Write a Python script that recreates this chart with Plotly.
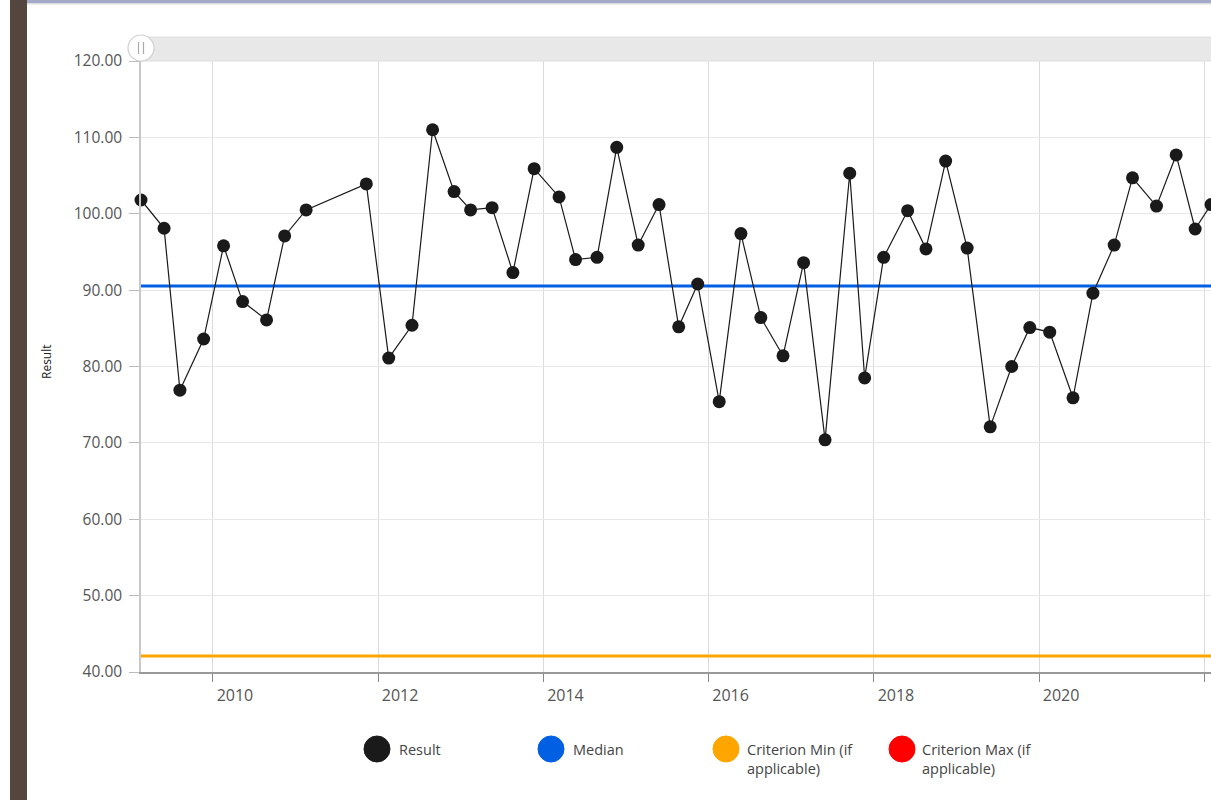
import plotly.graph_objects as go

# ---- data ----
dates = ["2009-02-17", "2009-05-30", "2009-08-08", "2009-11-21", "2010-02-17", "2010-05-12",
         "2010-08-26", "2010-11-14", "2011-02-17", "2011-11-10", "2012-02-17", "2012-05-30",
         "2012-08-29", "2012-12-02", "2013-02-13", "2013-05-19", "2013-08-19", "2013-11-21",
         "2014-03-11", "2014-05-23", "2014-08-26", "2014-11-21", "2015-02-24", "2015-05-27",
         "2015-08-22", "2015-11-14", "2016-02-17", "2016-05-23", "2016-08-19", "2016-11-25",
         "2017-02-24", "2017-05-30", "2017-09-16", "2017-11-21", "2018-02-13", "2018-05-30",
         "2018-08-19", "2018-11-14", "2019-02-17", "2019-05-30", "2019-09-02", "2019-11-21",
         "2020-02-17", "2020-05-30", "2020-08-26", "2020-11-28", "2021-02-17", "2021-06-03",
         "2021-08-29", "2021-11-21", "2022-01-30"]
results = [101.8, 98.1, 76.9, 83.6, 95.8, 88.5, 86.1, 97.1, 100.5, 103.9, 81.1, 85.4,
           111.0, 102.9, 100.5, 100.8, 92.3, 105.9, 102.2, 94.0, 94.3, 108.7, 95.9, 101.2,
           85.2, 90.8, 75.4, 97.4, 86.4, 81.4, 93.6, 70.4, 105.3, 78.5, 94.3, 100.4,
           95.4, 106.9, 95.5, 72.1, 80.0, 85.1, 84.5, 75.9, 89.6, 95.9, 104.7, 101.0,
           107.7, 98.0, 101.2]
median_value = 90.55
criterion_min = 42.1
x_range = ["2009-02-17", "2022-01-30"]
y_ticks = [40, 50, 60, 70, 80, 90, 100, 110, 120]
legend_names = ["Result", "Median", "Criterion Min (if<br>applicable)", "Criterion Max (if<br>applicable)"]
legend_colors = ["#1a1a1a", "#005fe3", "#ffa500", "#ff0000"]

W, H = 1211, 800
L, R, T, B = 141, 0, 61, 128
PW, PH = W - L - R, H - T - B


def px(x):
    return (x - L) / PW


def py(y):
    return (H - B - y) / PH


FONT = "Open Sans"
fig = go.Figure()

fig.add_trace(go.Scatter(x=x_range, y=[criterion_min, criterion_min], mode="lines",
                         line=dict(color="#ffa500", width=3), hoverinfo="skip", cliponaxis=False))
fig.add_trace(go.Scatter(x=x_range, y=[median_value, median_value], mode="lines",
                         line=dict(color="#005fe3", width=3), hoverinfo="skip", cliponaxis=False))
fig.add_trace(go.Scatter(x=dates, y=results, mode="lines+markers", name="Result",
                         line=dict(color="#1a1a1a", width=1.2),
                         marker=dict(color="#1a1a1a", size=13), cliponaxis=False))

fig.update_layout(
    width=W, height=H, margin=dict(l=L, r=R, t=T, b=B),
    paper_bgcolor="white", plot_bgcolor="white", showlegend=False,
    font=dict(family=FONT, size=12, color="#555"),
)
fig.update_xaxes(type="date", range=x_range, dtick="M24", tick0="2010-01-01", tickformat="%Y",
                 showgrid=True, gridcolor="#dcdcdc", gridwidth=1,
                 showline=True, linecolor="#999", linewidth=1.5,
                 ticks="outside", ticklen=8, tickcolor="#888", ticklabelshift=22,
                 tickfont=dict(size=16, color="#555"), zeroline=False)
fig.update_yaxes(range=[40, 120], tickvals=y_ticks, tickformat=".2f",
                 showgrid=True, gridcolor="#e8e8e8", gridwidth=1,
                 showline=True, linecolor="#c8c8c8", linewidth=1.5,
                 ticks="outside", ticklen=10, tickcolor="#bbb", ticklabelstandoff=4,
                 tickfont=dict(size=15.5, color="#555"), zeroline=False)

shapes = []
# left dark strip
shapes.append(dict(type="rect", xref="paper", yref="paper", x0=px(10), x1=px(27), y0=py(800), y1=py(0),
                   fillcolor="#54463f", line=dict(width=0), layer="above"))
# top border
shapes.append(dict(type="rect", xref="paper", yref="paper", x0=px(27), x1=px(1211), y0=py(3), y1=py(0),
                   fillcolor="#a3abc9", line=dict(width=0)))
shapes.append(dict(type="rect", xref="paper", yref="paper", x0=px(27), x1=px(1211), y0=py(4.5), y1=py(3),
                   fillcolor="#dcdcdc", line=dict(width=0)))
# scrollbar
shapes.append(dict(type="rect", xref="paper", yref="paper", x0=px(141), x1=px(1215), y0=py(61), y1=py(37),
                   fillcolor="#e8e8e8", line=dict(color="#dedede", width=1)))
shapes.append(dict(type="circle", xref="paper", yref="paper", x0=px(128), x1=px(154), y0=py(61), y1=py(35),
                   fillcolor="white", line=dict(color="#d0d0d0", width=1.2)))
for gx in (138.5, 143.5):
    shapes.append(dict(type="line", xref="paper", yref="paper", x0=px(gx), x1=px(gx), y0=py(54), y1=py(42),
                       line=dict(color="#aaaaaa", width=1.2)))
# legend circles
legend_cx = [377, 551, 726, 902]
for cx, col in zip(legend_cx, legend_colors):
    shapes.append(dict(type="circle", xref="paper", yref="paper", x0=px(cx - 13), x1=px(cx + 13),
                       y0=py(762), y1=py(736), fillcolor=col, line=dict(color=col, width=1)))
fig.update_layout(shapes=shapes)

annotations = [
    dict(text="Result", xref="paper", yref="paper", x=px(46), y=py(362), showarrow=False,
         xanchor="center", yanchor="middle",
         textangle=-90, font=dict(size=12, color="#222", family=FONT)),
]
legend_tx = [397, 571, 745, 920]
for tx, name in zip(legend_tx, legend_names):
    annotations.append(dict(text=name, xref="paper", yref="paper", x=px(tx), y=py(738),
                            xanchor="left", yanchor="top", align="left", showarrow=False,
                            font=dict(size=14.5, color="#444", family=FONT)))
fig.update_layout(annotations=annotations)

fig.write_html("out.html", config={"displayModeBar": False},
               post_script="document.body.style.margin='0';document.body.style.overflow='hidden';")
